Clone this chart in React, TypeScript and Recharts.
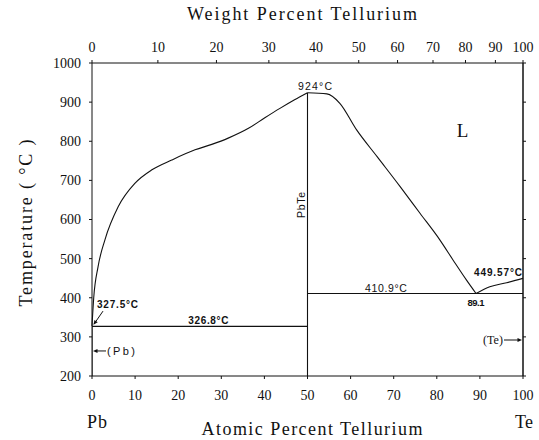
import { ComposedChart, Line, XAxis, YAxis, ReferenceDot, ReferenceLine } from 'recharts';

const PB_MASS = 207.2;
const TE_MASS = 127.6;

// weight % Te -> atomic % Te, used to place the top axis ticks
const toAtomic = (w: number) => {
  const te = w / TE_MASS;
  const pb = (100 - w) / PB_MASS;
  return (100 * te) / (te + pb);
};

const atomicTicks = [0, 10, 20, 30, 40, 50, 60, 70, 80, 90, 100];
const weightTicks = [0, 10, 20, 30, 40, 50, 60, 70, 80, 90, 100];
const tempTicks = [200, 300, 400, 500, 600, 700, 800, 900, 1000];

// liquidus from pure Pb up to the PbTe maximum
const liquidusPb = [
  { x: 0, t: 327.5 },
  { x: 0.4, t: 400 },
  { x: 1.4, t: 479 },
  { x: 3, t: 548 },
  { x: 6.1, t: 633 },
  { x: 10, t: 693 },
  { x: 13.9, t: 727 },
  { x: 18.5, t: 752 },
  { x: 23.9, t: 778 },
  { x: 27.8, t: 792 },
  { x: 31.6, t: 808 },
  { x: 36.3, t: 833 },
  { x: 40.1, t: 860 },
  { x: 43.6, t: 884 },
  { x: 47, t: 906 },
  { x: 50, t: 924 },
];

// liquidus from PbTe down to the Te-side eutectic
const liquidusPbTe = [
  { x: 50, t: 924 },
  { x: 54.5, t: 921 },
  { x: 57.5, t: 897 },
  { x: 61.4, t: 829 },
  { x: 66.2, t: 760 },
  { x: 71.5, t: 684 },
  { x: 76.1, t: 616 },
  { x: 80.7, t: 548 },
  { x: 83.8, t: 496 },
  { x: 86.9, t: 445 },
  { x: 89.1, t: 410.9 },
];

// liquidus from the eutectic up to pure Te
const liquidusTe = [
  { x: 89.1, t: 410.9 },
  { x: 92.3, t: 428 },
  { x: 96.2, t: 438.5 },
  { x: 100, t: 449.57 },
];

const eutecticPb = [
  { x: 0, t: 326.8 },
  { x: 50, t: 326.8 },
];
const eutecticTe = [
  { x: 50, t: 410.9 },
  { x: 100, t: 410.9 },
];
const pbTeLine = [
  { x: 50, t: 200 },
  { x: 50, t: 924 },
];
const pbSolid = [
  { x: 0, t: 200 },
  { x: 0, t: 327.5 },
];

const SANS = '"Liberation Sans", Arial, sans-serif';
const SERIF = '"Liberation Serif", "Times New Roman", serif';
const INK = '#111';

const serif = (size: number) => ({ fontFamily: SERIF, fontSize: size });
const sans = (size: number, bold = false) => ({ fontFamily: SANS, fontSize: size, fontWeight: bold ? 700 : 400 });

const arrowHead = (x: number, y: number, angle: number) => {
  const a = (angle * Math.PI) / 180;
  const len = 4.5;
  const w = 2;
  const bx = x - len * Math.cos(a);
  const by = y - len * Math.sin(a);
  const px = -Math.sin(a) * w;
  const py = Math.cos(a) * w;
  return `${x},${y} ${bx + px},${by + py} ${bx - px},${by - py}`;
};

const lineProps = {
  type: 'monotone' as const,
  dataKey: 't',
  stroke: INK,
  strokeWidth: 1.1,
  dot: false,
  activeDot: false,
  isAnimationActive: false,
};

const BottomTick = (p: any) => (
  <text x={p.x} y={p.y} dy="0.71em" textAnchor="middle" style={serif(14)} fill={INK}>
    {p.payload.value}
  </text>
);

const TopTick = (p: any) => (
  <text x={p.x} y={p.y} textAnchor="middle" style={serif(14)} fill={INK}>
    {weightTicks[p.index]}
  </text>
);

const LeftTick = (p: any) => (
  <text x={p.x} y={p.y} dy="0.355em" textAnchor="end" style={serif(14)} fill={INK}>
    {p.payload.value}
  </text>
);

export default function App() {
  const topTicks = weightTicks.map(toAtomic);

  return (
    <div style={{ position: 'absolute', left: 0, top: 0, width: 539, height: 440, background: '#fff' }}>
      <ComposedChart width={539} height={440} margin={{ top: 0, right: 0, bottom: 0, left: 0 }}>
        <XAxis
          xAxisId="top"
          dataKey="x"
          orientation="top"
          type="number"
          domain={[0, 100]}
          allowDataOverflow
          ticks={topTicks}
          interval={0}
          height={63}
          tickSize={3}
          tickMargin={8}
          tick={TopTick}
          stroke={INK}
        />
        <XAxis
          dataKey="x"
          type="number"
          domain={[0, 100]}
          ticks={atomicTicks}
          interval={0}
          height={64}
          tickSize={3}
          tickMargin={11}
          tick={BottomTick}
          stroke={INK}
        />
        <YAxis
          type="number"
          domain={[200, 1000]}
          ticks={tempTicks}
          interval={0}
          width={92}
          tickSize={3}
          tickMargin={8}
          tick={LeftTick}
          stroke={INK}
        />
        <YAxis
          yAxisId="right"
          orientation="right"
          type="number"
          domain={[200, 1000]}
          ticks={tempTicks}
          interval={0}
          width={16}
          tickSize={3}
          tick={() => <g />}
          stroke={INK}
        />

        <Line {...lineProps} data={liquidusPb} />
        <Line {...lineProps} data={liquidusPbTe} />
        <Line {...lineProps} data={liquidusTe} />
        <Line {...lineProps} type="linear" data={eutecticPb} />
        <Line {...lineProps} type="linear" data={eutecticTe} />
        <Line {...lineProps} type="linear" data={pbTeLine} />
        {/* same 0-100 / 200-1000 domains, so this one also carries the top and right axes */}
        <Line {...lineProps} type="linear" data={pbSolid} xAxisId="top" yAxisId="right" />
        <ReferenceLine x={100} stroke={INK} strokeWidth={1} ifOverflow="visible" />

        {/* melting point of Pb */}
        <ReferenceDot
          x={0}
          y={327.5}
          r={1}
          ifOverflow="visible"
          shape={(p: any) => (
            <g>
              <text x={p.cx + 5} y={p.cy - 18} style={sans(10, true)} textLength={41} fill={INK}>
                327.5°C
              </text>
              <line x1={p.cx + 11} y1={p.cy - 15} x2={p.cx + 2} y2={p.cy - 2} stroke={INK} strokeWidth={1} />
              <polygon points={arrowHead(p.cx + 1.5, p.cy - 1.3, 125)} fill={INK} />
            </g>
          )}
        />
        {/* Pb-side eutectic */}
        <ReferenceDot
          x={27}
          y={326.8}
          r={1}
          shape={(p: any) => (
            <text x={p.cx} y={p.cy - 2} textAnchor="middle" style={sans(10, true)} textLength={40} fill={INK}>
              326.8°C
            </text>
          )}
        />
        {/* congruent melting of PbTe */}
        <ReferenceDot
          x={50}
          y={924}
          r={1}
          shape={(p: any) => (
            <text x={p.cx + 7.5} y={p.cy - 3} textAnchor="middle" style={sans(10.5)} textLength={34} fill={INK}>
              924°C
            </text>
          )}
        />
        <ReferenceDot
          x={50}
          y={637}
          r={1}
          shape={(p: any) => (
            <text
              x={p.cx - 2.5}
              y={p.cy}
              transform={`rotate(-90 ${p.cx - 2.5} ${p.cy})`}
              textAnchor="middle"
              style={sans(10.5)}
              textLength={26}
              fill={INK}
            >
              PbTe
            </text>
          )}
        />
        <ReferenceDot
          x={86}
          y={810}
          r={1}
          shape={(p: any) => (
            <text x={p.cx} y={p.cy} textAnchor="middle" style={serif(19)} fill={INK}>
              L
            </text>
          )}
        />
        {/* Te-side eutectic */}
        <ReferenceDot
          x={68.2}
          y={410.9}
          r={1}
          shape={(p: any) => (
            <text x={p.cx} y={p.cy - 1.5} textAnchor="middle" style={sans(10.5)} textLength={42} fill={INK}>
              410.9°C
            </text>
          )}
        />
        <ReferenceDot
          x={89.1}
          y={410.9}
          r={1}
          shape={(p: any) => (
            <text x={p.cx} y={p.cy + 12.5} textAnchor="middle" style={sans(9.5, true)} textLength={17} fill={INK}>
              89.1
            </text>
          )}
        />
        {/* melting point of Te */}
        <ReferenceDot
          x={100}
          y={449.57}
          r={1}
          ifOverflow="visible"
          shape={(p: any) => (
            <text x={p.cx - 1} y={p.cy - 2} textAnchor="end" style={sans(10, true)} textLength={48} fill={INK}>
              449.57°C
            </text>
          )}
        />
        {/* terminal solid solutions */}
        <ReferenceDot
          x={0}
          y={264}
          r={1}
          ifOverflow="visible"
          shape={(p: any) => (
            <g>
              <line x1={p.cx + 14} y1={p.cy} x2={p.cx + 4} y2={p.cy} stroke={INK} strokeWidth={1} />
              <polygon points={arrowHead(p.cx + 1, p.cy, 180)} fill={INK} />
              <text x={p.cx + 15} y={p.cy + 4} style={sans(11)} textLength={28} fill={INK}>
                (Pb)
              </text>
            </g>
          )}
        />
        <ReferenceDot
          x={100}
          y={292}
          r={1}
          ifOverflow="visible"
          shape={(p: any) => (
            <g>
              <text x={p.cx - 20} y={p.cy + 4} textAnchor="end" style={serif(12)} textLength={20} fill={INK}>
                (Te)
              </text>
              <line x1={p.cx - 19} y1={p.cy} x2={p.cx - 4} y2={p.cy} stroke={INK} strokeWidth={1} />
              <polygon points={arrowHead(p.cx - 1, p.cy, 0)} fill={INK} />
            </g>
          )}
        />
      </ComposedChart>

      {/* axis titles */}
      <svg width={539} height={440} style={{ position: 'absolute', left: 0, top: 0, pointerEvents: 'none' }}>
        <text x={302} y={20} textAnchor="middle" style={serif(18)} textLength={230} fill={INK}>
          Weight Percent Tellurium
        </text>
        <text x={312} y={435} textAnchor="middle" style={serif(18)} textLength={221} fill={INK}>
          Atomic Percent Tellurium
        </text>
        <text x={87} y={428} style={serif(18)} textLength={20} fill={INK}>
          Pb
        </text>
        <text x={515} y={428} style={serif(18)} textLength={18} fill={INK}>
          Te
        </text>
        <text x={32} y={223} transform="rotate(-90 32 223)" textAnchor="middle" style={serif(18)} textLength={167} fill={INK}>
          Temperature ( °C )
        </text>
      </svg>
    </div>
  );
}
